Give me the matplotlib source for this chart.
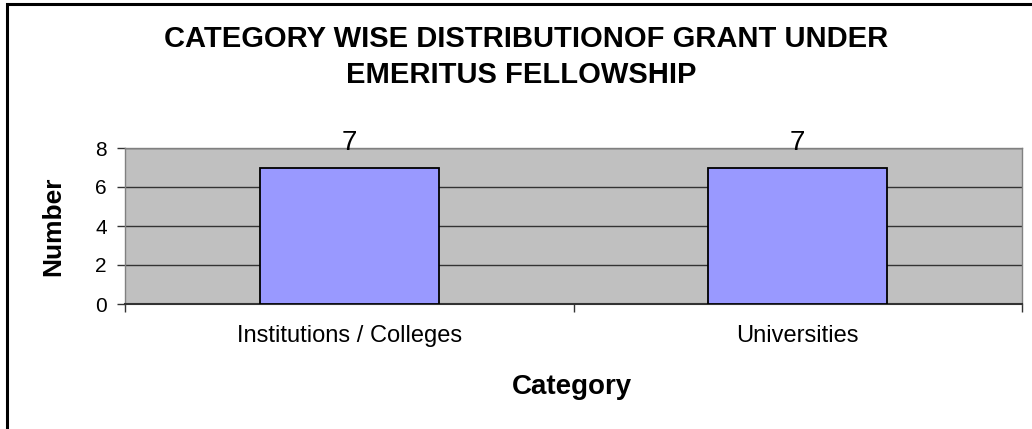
import matplotlib
matplotlib.use("Agg")
import matplotlib.pyplot as plt
from matplotlib.patches import Rectangle

categories = ["Institutions / Colleges", "Universities"]
values = [7, 7]
yticks = [0, 2, 4, 6, 8]
title_lines = ["CATEGORY WISE DISTRIBUTIONOF GRANT UNDER", "EMERITUS FELLOWSHIP"]

plt.rcParams['font.family'] = ['Liberation Sans', 'DejaVu Sans']

W, H = 1032, 429
fig = plt.figure(figsize=(W / 100, H / 100), dpi=100)
ax = fig.add_axes([125 / W, 1 - 304 / H, (1022 - 125) / W, (304 - 148) / H])
ax.set_facecolor('#C0C0C0')

x = list(range(len(categories)))
ax.bar(x, values, width=0.4, color='#9999FF', edgecolor='black', linewidth=1.3, zorder=3)
ax.set_xlim(-0.5, len(categories) - 0.5)
ax.set_ylim(0, 8)
ax.set_yticks(yticks)
ax.set_yticklabels([str(t) for t in yticks], fontsize=15)
ax.yaxis.grid(True, color='#333333', linewidth=1.0, zorder=1)
ax.set_axisbelow(True)

ax.set_xticks([-0.5, 0.5, 1.5])
ax.set_xticklabels([])
ax.set_xticks(x, minor=True)
ax.set_xticklabels(categories, minor=True, fontsize=17)
ax.tick_params(axis='x', which='major', direction='out', length=5.5, width=1, color='#333333')
ax.tick_params(axis='x', which='minor', length=0, pad=15)
ax.tick_params(axis='y', direction='out', length=6, width=1, color='#333333', pad=7)

for s in ['top', 'right', 'left']:
    ax.spines[s].set_color('#808080')
    ax.spines[s].set_linewidth(1)
ax.spines['bottom'].set_color('#333333')
ax.spines['bottom'].set_linewidth(1.5)

for xi, v in zip(x, values):
    ax.annotate(str(v), (xi, v), xytext=(0, 17), textcoords='offset pixels',
                ha='center', va='baseline', fontsize=20, annotation_clip=False)

ax.set_ylabel('Number', fontsize=19, fontweight='bold')
ax.yaxis.set_label_coords((53 - 125) / 897, 0.5)
ax.yaxis.label.set_va('center')
ax.set_xlabel('Category', fontsize=20, fontweight='bold')
ax.xaxis.set_label_coords((572 - 125) / 897, (304 - 387) / 156)
ax.xaxis.label.set_va('center')

fig.text(526 / W, 1 - 47 / H, title_lines[0], ha='center', va='baseline',
         fontsize=21, fontweight='bold')
fig.text(521 / W, 1 - 83 / H, title_lines[1], ha='center', va='baseline',
         fontsize=21, fontweight='bold')

fig.patches.append(Rectangle((7 / W, -0.1), 1.1, 1 - 4 / H + 0.1, transform=fig.transFigure,
                             fill=False, edgecolor='black', linewidth=2.2))

fig.savefig('out.png', dpi=100)
